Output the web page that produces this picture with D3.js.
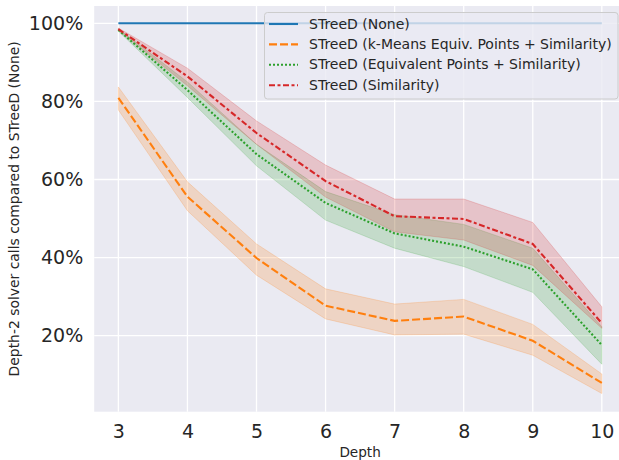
<!DOCTYPE html>
<html>
<head>
<meta charset="utf-8">
<script src="https://cdn.jsdelivr.net/npm/d3@7"></script>
<style>
  body { margin: 0; background: #fff; }
  svg { display: block; font-family: "DejaVu Sans", sans-serif; }
</style>
</head>
<body>
<svg id="chart" width="619" height="460"></svg>
<script>
const depths = [3, 4, 5, 6, 7, 8, 9, 10];
const yTicks = [20, 40, 60, 80, 100];

const seriesNames = [
  "STreeD (None)",
  "STreeD (k-Means Equiv. Points + Similarity)",
  "STreeD (Equivalent Points + Similarity)",
  "STreeD (Similarity)"
];

// mean values (%)
const noneMean = [100, 100, 100, 100, 100, 100, 100, 100];
const kmeansMean = [80.9, 55.6, 39.9, 27.7, 23.8, 24.9, 18.7, 7.9];
const equivMean = [98.3, 82.9, 66.5, 54.0, 46.2, 42.8, 37.0, 17.6];
const simMean = [98.5, 86.4, 71.9, 59.6, 50.6, 49.9, 43.5, 23.2];

// confidence band (%)
const kmeansLow = [77.8, 52.0, 35.5, 24.3, 20.2, 20.4, 15.0, 5.2];
const kmeansHigh = [83.7, 59.4, 43.5, 32.0, 28.1, 29.3, 22.9, 10.2];
const equivLow = [98.0, 81.0, 63.5, 49.6, 42.4, 37.7, 31.1, 12.7];
const equivHigh = [98.6, 85.0, 69.0, 56.9, 51.0, 48.5, 42.4, 22.3];
const simLow = [98.2, 84.0, 69.0, 55.5, 46.6, 44.5, 38.0, 21.9];
const simHigh = [98.8, 88.5, 75.0, 63.7, 55.0, 55.0, 49.0, 27.4];

const colors = ["#1f77b4", "#ff7f0e", "#2ca02c", "#d62728"];
// seaborn style dashes, scaled by line width
const dashes = [null, "8,3", "2,2", "6,2.5,3,2.5"];

const svg = d3.select("#chart");
const plotL = 94.2, plotR = 626, plotT = 6, plotB = 411.7;

const x = d3.scaleLinear().domain([2.65, 10.35]).range([plotL, plotR]);
const y = d3.scaleLinear().domain([0.54, 104.43]).range([plotB, plotT]);

// background
svg.append("rect")
  .attr("x", plotL).attr("y", plotT)
  .attr("width", plotR - plotL).attr("height", plotB - plotT)
  .attr("fill", "#eaeaf2");

// grid
const grid = svg.append("g").attr("stroke", "#fff").attr("stroke-width", 1.3);
grid.selectAll("line.gx").data(depths).join("line")
  .attr("class", "gx")
  .attr("x1", d => x(d)).attr("x2", d => x(d))
  .attr("y1", plotT).attr("y2", plotB);
grid.selectAll("line.gy").data(yTicks).join("line")
  .attr("class", "gy")
  .attr("x1", plotL).attr("x2", plotR)
  .attr("y1", d => y(d)).attr("y2", d => y(d));

// axes
const xAxis = svg.append("g")
  .attr("transform", `translate(0,${plotB})`)
  .call(d3.axisBottom(x).tickValues(depths).tickSize(0).tickPadding(13));
const yAxis = svg.append("g")
  .attr("transform", `translate(${plotL},0)`)
  .call(d3.axisLeft(y).tickValues(yTicks).tickSize(0).tickPadding(11)
    .tickFormat(d => d + "%"));
[xAxis, yAxis].forEach(a => {
  a.select(".domain").remove();
  a.selectAll("text")
    .attr("font-family", "DejaVu Sans, sans-serif")
    .attr("font-size", 19)
    .attr("fill", "#262626");
});

svg.append("text")
  .attr("x", (x(3) + x(10)) / 2).attr("y", 456.5)
  .attr("text-anchor", "middle")
  .attr("font-size", 13.6).attr("fill", "#262626")
  .text("Depth");

svg.append("text")
  .attr("transform", `translate(18.5,${(plotT + plotB) / 2}) rotate(-90)`)
  .attr("text-anchor", "middle")
  .attr("font-size", 13.9).attr("fill", "#262626")
  .text("Depth-2 solver calls compared to STreeD (None)");

// bands
const bands = [
  [kmeansLow, kmeansHigh, colors[1]],
  [equivLow, equivHigh, colors[2]],
  [simLow, simHigh, colors[3]]
];
const area = d3.area()
  .x((d, i) => x(depths[i]))
  .y0(d => y(d[0]))
  .y1(d => y(d[1]));
bands.forEach(([lo, hi, c]) => {
  svg.append("path")
    .datum(lo.map((v, i) => [v, hi[i]]))
    .attr("d", area)
    .attr("fill", c).attr("fill-opacity", 0.2)
    .attr("stroke", c).attr("stroke-opacity", 0.2).attr("stroke-width", 1);
});

// lines
const line = d3.line().x((d, i) => x(depths[i])).y(d => y(d));
[noneMean, kmeansMean, equivMean, simMean].forEach((vals, k) => {
  svg.append("path")
    .datum(vals)
    .attr("d", line)
    .attr("fill", "none")
    .attr("stroke", colors[k])
    .attr("stroke-width", 2.1)
    .attr("stroke-dasharray", dashes[k]);
});

// legend
const lg = svg.append("g");
lg.append("rect")
  .attr("x", 264.5).attr("y", 12.5)
  .attr("width", 353.5).attr("height", 86.5)
  .attr("rx", 3)
  .attr("fill", "#eaeaf2").attr("fill-opacity", 0.8)
  .attr("stroke", "#cccccc").attr("stroke-width", 1);
seriesNames.forEach((name, k) => {
  const cy = 24 + k * 20.4;
  lg.append("line")
    .attr("x1", 269).attr("x2", 298)
    .attr("y1", cy).attr("y2", cy)
    .attr("stroke", colors[k]).attr("stroke-width", 2.1)
    .attr("stroke-dasharray", dashes[k]);
  lg.append("text")
    .attr("x", 309).attr("y", cy + 4.6)
    .attr("font-size", 14).attr("fill", "#262626")
    .text(name);
});
</script>
</body>
</html>
